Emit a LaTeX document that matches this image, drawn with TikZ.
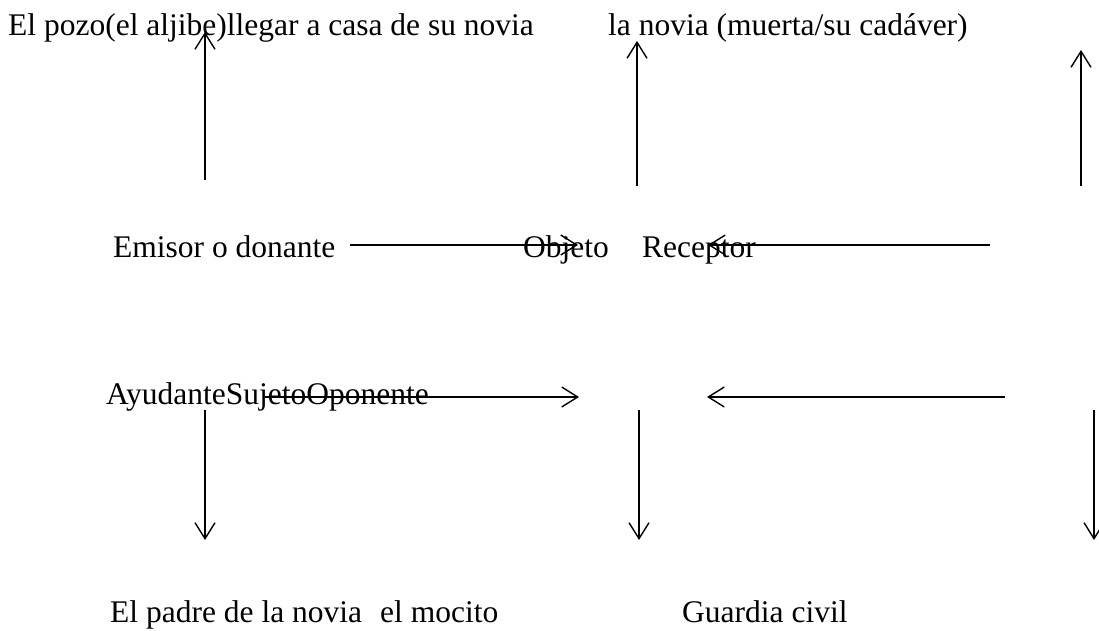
\documentclass[tikz,border=0pt]{standalone}
\usepackage{fontspec}
\setmainfont{Liberation Serif}
\usetikzlibrary{arrows.meta}
\tikzset{
	lbl/.style={anchor=base west, inner sep=0pt, font=\fontsize{31.5}{36}\selectfont},
	arr/.style={line width=1.4pt, -{Straight Barb[length=16pt,width=20pt,line width=1.4pt]}}
}

\begin{document}
\begin{tikzpicture}[x=1pt,y=1pt]
\useasboundingbox (0,0) rectangle (1099,630);
% fila de arriba
\node [lbl] (pozo) at (8,594) {El pozo(el aljibe)llegar a casa de su novia};
\node [lbl] (novia) at (608,594) {la novia (muerta/su cadáver)};
% emisor, objeto, receptor
\node [lbl] (emisor) at (113,373) {Emisor o donante};
\node [lbl] (objeto) at (523,373) {Objeto};
\node [lbl] (receptor) at (642,373) {Receptor};
% ayudante, sujeto, oponente
\node [lbl] (sujeto) at (106,226) {AyudanteSujetoOponente};
% fila de abajo
\node [lbl] (padre) at (110,8) {El padre de la novia};
\node [lbl] (mocito) at (380,8) {el mocito};
\node [lbl] (guardia) at (682,8) {Guardia civil};

\coordinate (up1a) at (205,450); \coordinate (up1b) at (205,598);
\coordinate (up2a) at (637,444); \coordinate (up2b) at (637,589);
\coordinate (up3a) at (1081,444); \coordinate (up3b) at (1081,580);
\coordinate (ra) at (350,385); \coordinate (rb) at (578,385);
\coordinate (la) at (990,385); \coordinate (lb) at (708,385);
\coordinate (sa) at (265,233); \coordinate (sb) at (579,233);
\coordinate (oa) at (1005,233); \coordinate (ob) at (707,233);
\coordinate (dn1a) at (205,220); \coordinate (dn1b) at (205,90);
\coordinate (dn2a) at (639,220); \coordinate (dn2b) at (639,90);
\coordinate (dn3a) at (1094,220); \coordinate (dn3b) at (1094,90);

\draw [arr] (up1a) -- (up1b);
\draw [arr] (up2a) -- (up2b);
\draw [arr] (up3a) -- (up3b);
\draw [arr] (ra) -- (rb);
\draw [arr] (la) -- (lb);
\draw [arr] (sa) -- (sb);
\draw [arr] (oa) -- (ob);
\draw [arr] (dn1a) -- (dn1b);
\draw [arr] (dn2a) -- (dn2b);
\draw [arr] (dn3a) -- (dn3b);
\end{tikzpicture}
\end{document}
